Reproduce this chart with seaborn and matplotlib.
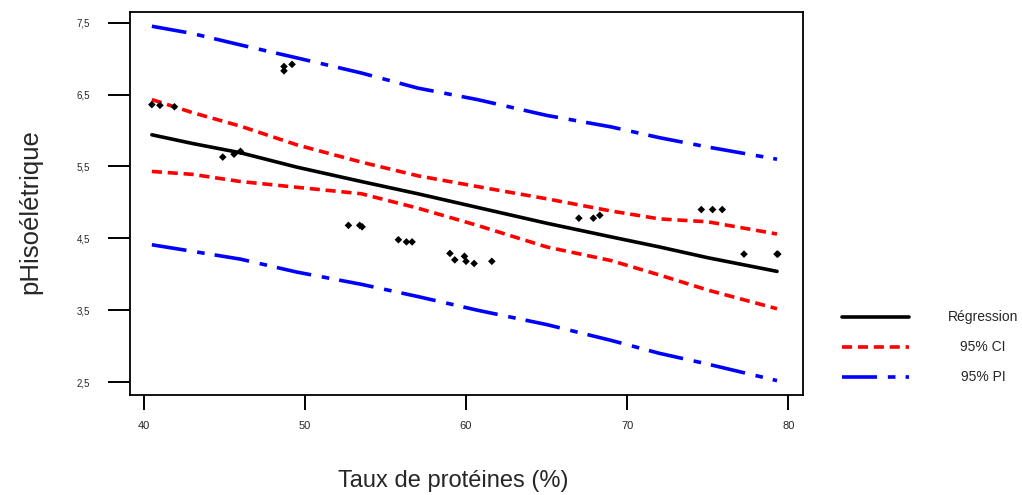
import numpy as np
import pandas as pd
import matplotlib
matplotlib.use("Agg")
import matplotlib.pyplot as plt
from matplotlib.lines import Line2D
import seaborn as sns

# observed points
prot = [40.5, 41.0, 41.9, 44.9, 45.6, 46.0, 48.7, 48.7, 49.2,
        52.7, 53.4, 53.55, 55.8, 56.3, 56.65, 59.0, 59.3, 59.9, 60.0, 60.5, 61.6,
        67.0, 67.9, 68.3, 74.6, 75.3, 75.9, 77.25, 79.3, 79.35]
ph = [6.36, 6.35, 6.33, 5.63, 5.67, 5.71, 6.89, 6.83, 6.92,
      4.68, 4.68, 4.66, 4.48, 4.45, 4.45, 4.29, 4.20, 4.25, 4.18, 4.15, 4.18,
      4.78, 4.78, 4.82, 4.90, 4.90, 4.90, 4.28, 4.28, 4.28]

# fitted curves
fit_x = [40.5, 43, 46, 49.5, 53.5, 57, 60.7, 65, 69, 72, 75, 79.3]
fit_y = [5.94, 5.82, 5.69, 5.49, 5.29, 5.12, 4.93, 4.71, 4.52, 4.38, 4.23, 4.04]
ci_hi = [6.43, 6.25, 6.06, 5.80, 5.56, 5.37, 5.22, 5.05, 4.88, 4.77, 4.73, 4.56]
ci_lo = [5.43, 5.39, 5.29, 5.21, 5.12, 4.92, 4.68, 4.38, 4.19, 3.99, 3.78, 3.52]
pi_hi = [7.45, 7.35, 7.19, 7.01, 6.80, 6.59, 6.43, 6.21, 6.05, 5.90, 5.77, 5.60]
pi_lo = [4.41, 4.32, 4.21, 4.03, 3.86, 3.69, 3.50, 3.30, 3.08, 2.90, 2.75, 2.52]

legend_labels = ["Régression", "95% CI", "95% PI"]
yticks = [2.5, 3.5, 4.5, 5.5, 6.5, 7.5]
xticks = [40, 50, 60, 70, 80]

sns.set_style("white")
plt.rcParams["font.family"] = ["Liberation Sans", "DejaVu Sans"]

fig = plt.figure(figsize=(10.22, 4.95), dpi=100)
ax = fig.add_axes([0.127, 0.202, 0.659, 0.774])

pts = pd.DataFrame({"x": prot, "y": ph})
curves = pd.DataFrame({"x": fit_x, "fit": fit_y, "ci_hi": ci_hi, "ci_lo": ci_lo,
                       "pi_hi": pi_hi, "pi_lo": pi_lo})

lw = 2.6
red_dash = (2.8, 1.6)
blue_dash = (9.7, 3.0, 2.1, 2.8)

sns.lineplot(data=curves, x="x", y="fit", color="black", lw=lw, ax=ax)
sns.lineplot(data=curves, x="x", y="ci_hi", color="red", lw=lw, ax=ax)
sns.lineplot(data=curves, x="x", y="ci_lo", color="red", lw=lw, ax=ax)
sns.lineplot(data=curves, x="x", y="pi_hi", color="blue", lw=lw, ax=ax)
sns.lineplot(data=curves, x="x", y="pi_lo", color="blue", lw=lw, ax=ax)
lines = ax.get_lines()
for ln in lines[1:3]:
    ln.set_dashes(red_dash)
for ln in lines[3:5]:
    ln.set_dashes(blue_dash)

sns.scatterplot(data=pts, x="x", y="y", marker="D", color="black", s=15,
                edgecolor="none", ax=ax, zorder=5)

ax.set_xlim(39.13, 80.93)
ax.set_ylim(2.32, 7.65)
ax.set_xticks(xticks)
ax.set_xticklabels([str(v) for v in xticks])
ax.set_yticks(yticks)
ax.set_yticklabels([str(v).replace(".", ",") for v in yticks])
ax.tick_params(axis="both", direction="out", width=1.4, color="black",
               bottom=True, left=True)
ax.tick_params(axis="x", length=10.8, pad=8, labelsize=8)
ax.tick_params(axis="y", length=15.8, pad=13, labelsize=7)
for sp in ax.spines.values():
    sp.set_color("black")
    sp.set_linewidth(1.3)

ax.set_xlabel("Taux de protéines (%)", fontsize=17)
ax.set_ylabel("pHisoélétrique", fontsize=18.5)
ax.xaxis.set_label_coords(0.48, -0.195)
ax.yaxis.set_label_coords(-0.13, 0.48)

# legend keys and centred labels outside the axes
key_y = [1 - 316.7 / 495, 1 - 347.3 / 495, 1 - 377.3 / 495]
key_style = [dict(color="black"), dict(color="red", dashes=red_dash),
             dict(color="blue", dashes=blue_dash)]
for yy, lab, st in zip(key_y, legend_labels, key_style):
    fig.add_artist(Line2D([842 / 1022, 909 / 1022], [yy, yy], lw=lw,
                          transform=fig.transFigure, **st))
    fig.text(983 / 1022, yy, lab, ha="center", va="center", fontsize=10)

fig.savefig("out.png", dpi=100)
